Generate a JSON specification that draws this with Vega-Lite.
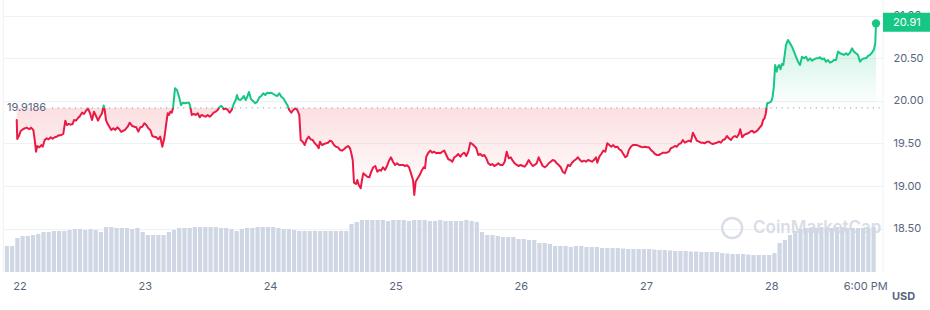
{
"$schema":"https://vega.github.io/schema/vega-lite/v6.json",
"width":880,"height":272,
"autosize":{"type":"none"},
"padding":{"left":3,"top":0,"right":47,"bottom":38},
"background":"white",
"config":{"view":{"stroke":null},"font":"Inter","text":{"font":"Inter"},"scale":{"continuousPadding":0}},
"datasets":{
"one":[{}],
"ticks":[{"t":0,"label":"22"},{"t":24,"label":"23"},{"t":48,"label":"24"},{"t":72,"label":"25"},{"t":96,"label":"26"},{"t":120,"label":"27"},{"t":144,"label":"28"},{"t":162,"label":"6:00 PM"}],
"volume":[{"t":-2.5,"vol":26},{"t":-1.5,"vol":26},{"t":-0.5,"vol":34},{"t":0.5,"vol":36},{"t":1.5,"vol":36},{"t":2.5,"vol":37},{"t":3.5,"vol":38},{"t":4.5,"vol":40},{"t":5.5,"vol":40},{"t":6.5,"vol":41},{"t":7.5,"vol":41},{"t":8.5,"vol":41},{"t":9.5,"vol":42},{"t":10.5,"vol":43},{"t":11.5,"vol":43},{"t":12.5,"vol":42},{"t":13.5,"vol":43},{"t":14.5,"vol":42},{"t":15.5,"vol":40},{"t":16.5,"vol":45},{"t":17.5,"vol":45},{"t":18.5,"vol":44},{"t":19.5,"vol":44},{"t":20.5,"vol":44},{"t":21.5,"vol":43},{"t":22.5,"vol":44},{"t":23.5,"vol":40},{"t":24.5,"vol":37},{"t":25.5,"vol":37},{"t":26.5,"vol":37},{"t":27.5,"vol":37},{"t":28.5,"vol":40},{"t":29.5,"vol":42},{"t":30.5,"vol":44},{"t":31.5,"vol":44},{"t":32.5,"vol":44},{"t":33.5,"vol":45},{"t":34.5,"vol":45},{"t":35.5,"vol":45},{"t":36.5,"vol":45},{"t":37.5,"vol":45},{"t":38.5,"vol":44},{"t":39.5,"vol":44},{"t":40.5,"vol":43},{"t":41.5,"vol":41},{"t":42.5,"vol":43},{"t":43.5,"vol":44},{"t":44.5,"vol":44},{"t":45.5,"vol":45},{"t":46.5,"vol":45},{"t":47.5,"vol":45},{"t":48.5,"vol":45},{"t":49.5,"vol":44},{"t":50.5,"vol":43},{"t":51.5,"vol":43},{"t":52.5,"vol":42},{"t":53.5,"vol":41},{"t":54.5,"vol":41},{"t":55.5,"vol":41},{"t":56.5,"vol":41},{"t":57.5,"vol":41},{"t":58.5,"vol":41},{"t":59.5,"vol":41},{"t":60.5,"vol":41},{"t":61.5,"vol":41},{"t":62.5,"vol":41},{"t":63.5,"vol":48},{"t":64.5,"vol":50},{"t":65.5,"vol":52},{"t":66.5,"vol":52},{"t":67.5,"vol":52},{"t":68.5,"vol":52},{"t":69.5,"vol":52},{"t":70.5,"vol":51},{"t":71.5,"vol":52},{"t":72.5,"vol":52},{"t":73.5,"vol":52},{"t":74.5,"vol":51},{"t":75.5,"vol":52},{"t":76.5,"vol":52},{"t":77.5,"vol":52},{"t":78.5,"vol":51},{"t":79.5,"vol":51},{"t":80.5,"vol":52},{"t":81.5,"vol":51},{"t":82.5,"vol":51},{"t":83.5,"vol":51},{"t":84.5,"vol":51},{"t":85.5,"vol":52},{"t":86.5,"vol":51},{"t":87.5,"vol":50},{"t":88.5,"vol":40},{"t":89.5,"vol":37},{"t":90.5,"vol":37},{"t":91.5,"vol":36},{"t":92.5,"vol":35},{"t":93.5,"vol":35},{"t":94.5,"vol":35},{"t":95.5,"vol":33},{"t":96.5,"vol":33},{"t":97.5,"vol":32},{"t":98.5,"vol":32},{"t":99.5,"vol":29},{"t":100.5,"vol":29},{"t":101.5,"vol":28},{"t":102.5,"vol":26},{"t":103.5,"vol":26},{"t":104.5,"vol":26},{"t":105.5,"vol":25},{"t":106.5,"vol":26},{"t":107.5,"vol":26},{"t":108.5,"vol":25},{"t":109.5,"vol":25},{"t":110.5,"vol":25},{"t":111.5,"vol":24},{"t":112.5,"vol":24},{"t":113.5,"vol":24},{"t":114.5,"vol":24},{"t":115.5,"vol":23.5},{"t":116.5,"vol":23},{"t":117.5,"vol":23},{"t":118.5,"vol":23},{"t":119.5,"vol":23},{"t":120.5,"vol":23},{"t":121.5,"vol":22.5},{"t":122.5,"vol":22},{"t":123.5,"vol":22},{"t":124.5,"vol":21.5},{"t":125.5,"vol":21},{"t":126.5,"vol":21},{"t":127.5,"vol":21},{"t":128.5,"vol":20.5},{"t":129.5,"vol":20.5},{"t":130.5,"vol":20},{"t":131.5,"vol":20},{"t":132.5,"vol":20},{"t":133.5,"vol":20},{"t":134.5,"vol":19},{"t":135.5,"vol":18.5},{"t":136.5,"vol":18},{"t":137.5,"vol":18},{"t":138.5,"vol":18},{"t":139.5,"vol":17.5},{"t":140.5,"vol":17},{"t":141.5,"vol":17},{"t":142.5,"vol":17},{"t":143.5,"vol":17},{"t":144.5,"vol":19},{"t":145.5,"vol":29},{"t":146.5,"vol":32},{"t":147.5,"vol":37},{"t":148.5,"vol":41},{"t":149.5,"vol":43},{"t":150.5,"vol":44},{"t":151.5,"vol":44},{"t":152.5,"vol":44},{"t":153.5,"vol":45},{"t":154.5,"vol":44},{"t":155.5,"vol":44},{"t":156.5,"vol":45},{"t":157.5,"vol":45},{"t":158.5,"vol":44},{"t":159.5,"vol":44},{"t":160.5,"vol":44},{"t":161.5,"vol":44},{"t":162.5,"vol":44},{"t":163.5,"vol":45}],
"price":[{"t":-0.63,"p":19.776},{"t":-0.52,"p":19.553},{"t":-0.13,"p":19.6},{"t":0.13,"p":19.647},{"t":0.63,"p":19.67},{"t":1.28,"p":19.686},{"t":1.78,"p":19.667},{"t":2.11,"p":19.686},{"t":2.55,"p":19.659},{"t":2.82,"p":19.541},{"t":3.07,"p":19.404},{"t":3.31,"p":19.471},{"t":3.7,"p":19.455},{"t":4.08,"p":19.482},{"t":4.35,"p":19.462},{"t":4.73,"p":19.541},{"t":5.11,"p":19.561},{"t":5.5,"p":19.549},{"t":5.88,"p":19.573},{"t":6.26,"p":19.556},{"t":6.65,"p":19.573},{"t":7.03,"p":19.58},{"t":7.41,"p":19.596},{"t":7.8,"p":19.596},{"t":8.29,"p":19.612},{"t":8.68,"p":19.768},{"t":8.95,"p":19.717},{"t":9.33,"p":19.729},{"t":9.71,"p":19.721},{"t":10.09,"p":19.729},{"t":10.34,"p":19.776},{"t":10.73,"p":19.768},{"t":11.11,"p":19.799},{"t":11.49,"p":19.823},{"t":11.88,"p":19.862},{"t":12.26,"p":19.846},{"t":12.64,"p":19.885},{"t":13.03,"p":19.909},{"t":13.41,"p":19.855},{"t":13.79,"p":19.776},{"t":14.17,"p":19.873},{"t":14.56,"p":19.823},{"t":14.94,"p":19.768},{"t":15.32,"p":19.815},{"t":15.71,"p":19.855},{"t":16.03,"p":19.946},{"t":16.22,"p":19.893},{"t":16.47,"p":19.776},{"t":16.72,"p":19.737},{"t":17.11,"p":19.697},{"t":17.49,"p":19.659},{"t":17.87,"p":19.678},{"t":18.25,"p":19.659},{"t":18.64,"p":19.69},{"t":19.02,"p":19.667},{"t":19.4,"p":19.635},{"t":19.79,"p":19.65},{"t":20.11,"p":19.659},{"t":20.63,"p":19.697},{"t":21.01,"p":19.744},{"t":21.51,"p":19.705},{"t":21.89,"p":19.697},{"t":22.28,"p":19.69},{"t":22.66,"p":19.639},{"t":23.04,"p":19.69},{"t":23.43,"p":19.697},{"t":23.81,"p":19.737},{"t":24.19,"p":19.717},{"t":24.58,"p":19.678},{"t":24.96,"p":19.659},{"t":25.34,"p":19.588},{"t":25.72,"p":19.58},{"t":26.11,"p":19.573},{"t":26.49,"p":19.549},{"t":26.87,"p":19.58},{"t":27.26,"p":19.462},{"t":27.64,"p":19.561},{"t":28.02,"p":19.737},{"t":28.29,"p":19.855},{"t":28.54,"p":19.835},{"t":28.79,"p":19.873},{"t":29.06,"p":19.862},{"t":29.31,"p":19.913},{"t":29.69,"p":20.148},{"t":30.07,"p":20.128},{"t":30.46,"p":20.049},{"t":30.84,"p":19.952},{"t":31.22,"p":19.979},{"t":31.6,"p":19.972},{"t":31.99,"p":19.979},{"t":32.37,"p":19.979},{"t":32.62,"p":19.932},{"t":32.89,"p":19.835},{"t":33.27,"p":19.846},{"t":33.65,"p":19.835},{"t":34.04,"p":19.855},{"t":34.42,"p":19.808},{"t":34.8,"p":19.835},{"t":35.19,"p":19.823},{"t":35.57,"p":19.815},{"t":35.95,"p":19.835},{"t":36.34,"p":19.815},{"t":36.72,"p":19.835},{"t":37.1,"p":19.862},{"t":37.48,"p":19.873},{"t":37.87,"p":19.893},{"t":38.25,"p":19.932},{"t":38.63,"p":19.94},{"t":39.02,"p":19.901},{"t":39.4,"p":19.913},{"t":39.78,"p":19.893},{"t":40.17,"p":19.862},{"t":40.55,"p":19.893},{"t":40.93,"p":19.964},{"t":41.32,"p":20.011},{"t":41.56,"p":20.069},{"t":41.81,"p":20.019},{"t":42.2,"p":20.011},{"t":42.58,"p":20.031},{"t":42.85,"p":20.058},{"t":43.23,"p":20.011},{"t":43.48,"p":20.042},{"t":43.86,"p":20.105},{"t":44.25,"p":20.019},{"t":44.57,"p":20.002},{"t":45.07,"p":19.972},{"t":45.45,"p":19.991},{"t":45.84,"p":20.042},{"t":46.22,"p":20.058},{"t":46.6,"p":20.089},{"t":46.98,"p":20.069},{"t":47.37,"p":20.096},{"t":47.75,"p":20.089},{"t":48.13,"p":20.096},{"t":48.52,"p":20.081},{"t":48.9,"p":20.066},{"t":49.28,"p":20.058},{"t":49.67,"p":20.089},{"t":50.05,"p":20.049},{"t":50.43,"p":20.031},{"t":50.82,"p":19.991},{"t":51.2,"p":19.952},{"t":51.58,"p":19.893},{"t":51.96,"p":19.862},{"t":52.35,"p":19.893},{"t":52.73,"p":19.913},{"t":53.11,"p":19.893},{"t":53.5,"p":19.835},{"t":53.77,"p":19.541},{"t":54.15,"p":19.521},{"t":54.53,"p":19.482},{"t":54.91,"p":19.549},{"t":55.3,"p":19.58},{"t":55.68,"p":19.549},{"t":56.06,"p":19.541},{"t":56.45,"p":19.502},{"t":56.83,"p":19.482},{"t":57.21,"p":19.444},{"t":57.46,"p":19.521},{"t":57.85,"p":19.482},{"t":58.23,"p":19.494},{"t":58.61,"p":19.502},{"t":58.99,"p":19.509},{"t":59.38,"p":19.533},{"t":59.76,"p":19.521},{"t":60.14,"p":19.482},{"t":60.53,"p":19.462},{"t":60.91,"p":19.455},{"t":61.29,"p":19.424},{"t":61.68,"p":19.416},{"t":62.06,"p":19.432},{"t":62.44,"p":19.455},{"t":62.83,"p":19.471},{"t":63.21,"p":19.444},{"t":63.46,"p":19.385},{"t":63.73,"p":19.306},{"t":63.97,"p":19.04},{"t":64.36,"p":19.025},{"t":64.61,"p":19.072},{"t":64.88,"p":19.013},{"t":65.26,"p":18.974},{"t":65.51,"p":19.072},{"t":65.76,"p":19.15},{"t":66.14,"p":19.13},{"t":66.52,"p":19.11},{"t":66.91,"p":19.103},{"t":67.29,"p":19.169},{"t":67.67,"p":19.221},{"t":68.05,"p":19.236},{"t":68.44,"p":19.169},{"t":68.82,"p":19.189},{"t":69.15,"p":19.181},{"t":69.53,"p":19.221},{"t":69.91,"p":19.189},{"t":70.3,"p":19.236},{"t":70.68,"p":19.298},{"t":71.06,"p":19.338},{"t":71.44,"p":19.286},{"t":71.83,"p":19.248},{"t":72.21,"p":19.268},{"t":72.59,"p":19.248},{"t":72.98,"p":19.248},{"t":73.36,"p":19.248},{"t":73.74,"p":19.236},{"t":74.13,"p":19.244},{"t":74.51,"p":19.221},{"t":74.89,"p":19.15},{"t":75.28,"p":19.072},{"t":75.52,"p":18.896},{"t":75.79,"p":19.052},{"t":76.18,"p":19.092},{"t":76.56,"p":19.13},{"t":76.94,"p":19.181},{"t":77.33,"p":19.221},{"t":77.57,"p":19.209},{"t":77.82,"p":19.345},{"t":78.21,"p":19.392},{"t":78.59,"p":19.416},{"t":78.97,"p":19.392},{"t":79.36,"p":19.404},{"t":79.74,"p":19.385},{"t":80.12,"p":19.392},{"t":80.5,"p":19.385},{"t":80.89,"p":19.404},{"t":81.27,"p":19.416},{"t":81.65,"p":19.365},{"t":82.04,"p":19.315},{"t":82.42,"p":19.306},{"t":82.8,"p":19.286},{"t":83.19,"p":19.338},{"t":83.57,"p":19.353},{"t":83.95,"p":19.377},{"t":84.34,"p":19.345},{"t":84.72,"p":19.377},{"t":85.1,"p":19.392},{"t":85.48,"p":19.353},{"t":85.87,"p":19.404},{"t":86.25,"p":19.509},{"t":86.63,"p":19.494},{"t":87.02,"p":19.471},{"t":87.4,"p":19.444},{"t":87.78,"p":19.365},{"t":88.17,"p":19.377},{"t":88.55,"p":19.353},{"t":88.93,"p":19.365},{"t":89.32,"p":19.326},{"t":89.7,"p":19.268},{"t":90.08,"p":19.248},{"t":90.46,"p":19.259},{"t":90.85,"p":19.236},{"t":91.23,"p":19.248},{"t":91.61,"p":19.268},{"t":92.0,"p":19.248},{"t":92.46,"p":19.248},{"t":92.84,"p":19.286},{"t":93.22,"p":19.404},{"t":93.61,"p":19.326},{"t":93.99,"p":19.338},{"t":94.37,"p":19.298},{"t":94.75,"p":19.268},{"t":95.14,"p":19.248},{"t":95.52,"p":19.236},{"t":95.9,"p":19.248},{"t":96.29,"p":19.236},{"t":96.67,"p":19.228},{"t":97.05,"p":19.259},{"t":97.44,"p":19.306},{"t":97.82,"p":19.268},{"t":98.2,"p":19.236},{"t":98.59,"p":19.248},{"t":98.97,"p":19.268},{"t":99.35,"p":19.338},{"t":99.73,"p":19.286},{"t":100.12,"p":19.236},{"t":100.5,"p":19.221},{"t":100.88,"p":19.236},{"t":101.27,"p":19.268},{"t":101.65,"p":19.286},{"t":102.03,"p":19.306},{"t":102.42,"p":19.298},{"t":102.8,"p":19.268},{"t":103.18,"p":19.248},{"t":103.57,"p":19.221},{"t":103.95,"p":19.169},{"t":104.33,"p":19.15},{"t":104.58,"p":19.189},{"t":104.96,"p":19.248},{"t":105.35,"p":19.236},{"t":105.73,"p":19.275},{"t":106.11,"p":19.298},{"t":106.5,"p":19.315},{"t":106.88,"p":19.338},{"t":107.26,"p":19.306},{"t":107.65,"p":19.286},{"t":108.03,"p":19.298},{"t":108.41,"p":19.286},{"t":108.79,"p":19.306},{"t":109.18,"p":19.298},{"t":109.56,"p":19.286},{"t":109.94,"p":19.306},{"t":110.33,"p":19.338},{"t":110.58,"p":19.275},{"t":110.96,"p":19.345},{"t":111.34,"p":19.377},{"t":111.72,"p":19.416},{"t":112.11,"p":19.404},{"t":112.49,"p":19.502},{"t":112.87,"p":19.482},{"t":113.26,"p":19.462},{"t":113.64,"p":19.482},{"t":114.02,"p":19.455},{"t":114.41,"p":19.462},{"t":114.79,"p":19.432},{"t":115.17,"p":19.416},{"t":115.56,"p":19.377},{"t":115.94,"p":19.338},{"t":116.28,"p":19.353},{"t":116.63,"p":19.424},{"t":117.01,"p":19.462},{"t":117.4,"p":19.482},{"t":117.78,"p":19.482},{"t":118.16,"p":19.482},{"t":118.54,"p":19.471},{"t":118.93,"p":19.462},{"t":119.31,"p":19.455},{"t":119.69,"p":19.462},{"t":120.08,"p":19.455},{"t":120.46,"p":19.455},{"t":120.84,"p":19.424},{"t":121.23,"p":19.404},{"t":121.61,"p":19.377},{"t":121.99,"p":19.365},{"t":122.38,"p":19.365},{"t":122.76,"p":19.377},{"t":123.14,"p":19.392},{"t":123.52,"p":19.392},{"t":123.91,"p":19.392},{"t":124.29,"p":19.404},{"t":124.67,"p":19.444},{"t":125.06,"p":19.455},{"t":125.44,"p":19.471},{"t":125.82,"p":19.462},{"t":126.21,"p":19.494},{"t":126.59,"p":19.502},{"t":126.97,"p":19.541},{"t":127.36,"p":19.509},{"t":127.74,"p":19.521},{"t":128.12,"p":19.533},{"t":128.5,"p":19.521},{"t":128.89,"p":19.627},{"t":129.27,"p":19.58},{"t":129.65,"p":19.533},{"t":130.04,"p":19.521},{"t":130.42,"p":19.509},{"t":130.8,"p":19.509},{"t":131.19,"p":19.502},{"t":131.57,"p":19.521},{"t":131.95,"p":19.521},{"t":132.34,"p":19.502},{"t":132.72,"p":19.494},{"t":133.1,"p":19.502},{"t":133.49,"p":19.509},{"t":133.87,"p":19.521},{"t":134.25,"p":19.509},{"t":134.63,"p":19.541},{"t":135.02,"p":19.549},{"t":135.4,"p":19.588},{"t":135.78,"p":19.561},{"t":136.17,"p":19.541},{"t":136.55,"p":19.573},{"t":136.93,"p":19.588},{"t":137.32,"p":19.573},{"t":137.7,"p":19.612},{"t":137.95,"p":19.667},{"t":138.33,"p":19.573},{"t":138.71,"p":19.6},{"t":139.1,"p":19.612},{"t":139.48,"p":19.62},{"t":139.86,"p":19.639},{"t":140.25,"p":19.65},{"t":140.56,"p":19.627},{"t":140.94,"p":19.639},{"t":141.33,"p":19.659},{"t":141.71,"p":19.69},{"t":142.09,"p":19.717},{"t":142.34,"p":19.776},{"t":142.61,"p":19.796},{"t":142.86,"p":19.855},{"t":143.11,"p":19.972},{"t":143.49,"p":19.979},{"t":143.87,"p":19.991},{"t":144.14,"p":20.042},{"t":144.39,"p":20.167},{"t":144.64,"p":20.421},{"t":144.91,"p":20.343},{"t":145.16,"p":20.401},{"t":145.41,"p":20.421},{"t":145.67,"p":20.371},{"t":145.92,"p":20.433},{"t":146.2,"p":20.421},{"t":146.47,"p":20.539},{"t":146.72,"p":20.656},{"t":147.1,"p":20.715},{"t":147.49,"p":20.676},{"t":147.87,"p":20.636},{"t":148.25,"p":20.578},{"t":148.63,"p":20.519},{"t":149.02,"p":20.46},{"t":149.4,"p":20.421},{"t":149.78,"p":20.519},{"t":150.17,"p":20.5},{"t":150.55,"p":20.519},{"t":150.93,"p":20.472},{"t":151.32,"p":20.5},{"t":151.7,"p":20.472},{"t":152.08,"p":20.488},{"t":152.46,"p":20.5},{"t":152.85,"p":20.5},{"t":153.23,"p":20.512},{"t":153.61,"p":20.488},{"t":154.0,"p":20.5},{"t":154.38,"p":20.46},{"t":154.76,"p":20.48},{"t":155.15,"p":20.448},{"t":155.53,"p":20.46},{"t":155.91,"p":20.48},{"t":156.3,"p":20.48},{"t":156.68,"p":20.578},{"t":157.06,"p":20.559},{"t":157.44,"p":20.55},{"t":157.83,"p":20.539},{"t":158.21,"p":20.559},{"t":158.59,"p":20.539},{"t":158.98,"p":20.566},{"t":159.36,"p":20.617},{"t":159.74,"p":20.578},{"t":160.13,"p":20.559},{"t":160.51,"p":20.539},{"t":160.89,"p":20.46},{"t":161.27,"p":20.488},{"t":161.66,"p":20.5},{"t":162.04,"p":20.5},{"t":162.42,"p":20.527},{"t":162.81,"p":20.539},{"t":163.19,"p":20.566},{"t":163.57,"p":20.606},{"t":163.82,"p":20.676},{"t":163.96,"p":20.91}]
},
"layer":[
{"data":{"name":"one"},"mark":{"type":"rule","color":"#eff2f5","strokeWidth":1},
 "encoding":{"x":{"datum":-3.2,"type":"quantitative","scale":{"domain":[-3.256,165.3],"nice":false,"zero":false,"padding":0},"axis":null}}},
{"data":{"name":"one"},"mark":{"type":"rule","color":"#eff2f5","strokeWidth":1},
 "encoding":{"x":{"datum":165.3,"type":"quantitative","axis":null}}},
{"data":{"name":"one"},"mark":{"type":"point","shape":"circle","filled":false,"stroke":"#d9dde6","strokeWidth":2.5,"opacity":1,"size":400},
 "encoding":{"x":{"datum":136.4,"type":"quantitative","axis":null},
  "y":{"datum":18.508,"type":"quantitative","scale":{"domain":[17.992,21.184],"nice":false,"zero":false},"axis":null}}},
{"data":{"name":"one"},"mark":{"type":"text","text":"CoinMarketCap","align":"left","baseline":"middle","fontSize":17,"fontWeight":600,"color":"#d9dde6"},
 "encoding":{"x":{"datum":140.4,"type":"quantitative","axis":null},
  "y":{"datum":18.508,"type":"quantitative","scale":{"domain":[17.992,21.184],"nice":false,"zero":false},"axis":null}}},
{"data":{"name":"volume"},
 "mark":{"type":"bar","width":4.2,"color":"#cfd6e4"},
 "encoding":{"x":{"field":"t","type":"quantitative","scale":{"domain":[-3.256,165.3],"nice":false,"zero":false,"padding":0},"axis":null},
  "y":{"field":"vol","type":"quantitative","scale":{"domain":[0,272],"nice":false},"axis":null}}},
{"data":{"name":"ticks"},"mark":{"type":"text","align":"center","baseline":"middle","fontSize":11,"color":"#58667e"},
 "encoding":{"x":{"field":"t","type":"quantitative","axis":null},
  "y":{"datum":17.816,"type":"quantitative","scale":{"domain":[17.992,21.184],"nice":false,"zero":false},"axis":null},
  "text":{"field":"label"}}},
{"data":{"name":"price"},
 "mark":{"type":"area","fill":{"gradient":"linear","x1":0,"y1":0,"x2":0,"y2":1,"stops":[{"offset":0,"color":"rgba(22,199,132,0.26)"},{"offset":0.49225,"color":"rgba(22,199,132,0)"},{"offset":0.49225,"color":"rgba(234,57,67,0.16)"},{"offset":1,"color":"rgba(234,57,67,0)"}]}},
 "encoding":{"x":{"field":"t","type":"quantitative","axis":null},
  "y":{"field":"p","type":"quantitative","scale":{"domain":[17.992,21.184],"nice":false,"zero":false},"axis":null},
  "y2":{"datum":19.9186}}},
{"data":{"name":"one"},"mark":{"type":"rule","color":"#a6aebd","strokeWidth":1.2,"strokeDash":[1.2,4.5]},
 "encoding":{"x":{"datum":6.13,"type":"quantitative","axis":null},
  "x2":{"datum":164.7},
  "y":{"datum":19.9186,"type":"quantitative","scale":{"domain":[17.992,21.184],"nice":false,"zero":false},"axis":null}}},
{"data":{"name":"price"},
 "mark":{"type":"line","strokeWidth":2,"strokeJoin":"round","strokeCap":"round","stroke":{"gradient":"linear","x1":0,"y1":0,"x2":0,"y2":1,"stops":[{"offset":0,"color":"#16c784"},{"offset":0.49225,"color":"#16c784"},{"offset":0.49225,"color":"#ea1a44"},{"offset":1,"color":"#ea1a44"}]}},
 "encoding":{"x":{"field":"t","type":"quantitative","axis":null},
  "y":{"field":"p","type":"quantitative","scale":{"domain":[17.992,21.184],"nice":false,"zero":false},
   "axis":{"orient":"right","values":[18.5,19,19.5,20,20.5,21],"format":".2f","grid":true,"gridColor":"#eff2f5","gridWidth":1,"domain":false,"ticks":false,"labelPadding":10,"labelFontSize":11,"labelFont":"Inter","labelColor":"#58667e","title":"USD","titleAngle":0,"titleX":20,"titleY":296,"titleAlign":"center","titleBaseline":"middle","titleFontSize":11,"titleFont":"Inter","titleFontWeight":"bold","titleColor":"#58667e"}}}},
{"data":{"name":"one"},"mark":{"type":"point","shape":"circle","filled":true,"color":"#16c784","opacity":1,"size":70},
 "encoding":{"x":{"datum":163.96,"type":"quantitative","axis":null},
  "y":{"datum":20.91,"type":"quantitative","scale":{"domain":[17.992,21.184],"nice":false,"zero":false},"axis":null}}},
{"data":{"name":"one"},"mark":{"type":"text","text":"19.9186","align":"left","baseline":"middle","fontSize":11,"color":"#58667e"},
 "encoding":{"x":{"datum":-2.49,"type":"quantitative","axis":null},
  "y":{"datum":19.9186,"type":"quantitative","scale":{"domain":[17.992,21.184],"nice":false,"zero":false},"axis":null}}},
{"data":{"name":"one"},"mark":{"type":"rect","color":"#16c784"},
 "encoding":{"x":{"datum":165.3,"type":"quantitative","axis":null},
  "x2":{"datum":174.3},
  "y":{"datum":21.035,"type":"quantitative","scale":{"domain":[17.992,21.184],"nice":false,"zero":false},"axis":null},
  "y2":{"datum":20.812}}},
{"data":{"name":"one"},"mark":{"type":"text","text":"20.91","align":"left","baseline":"middle","fontSize":11,"color":"white"},
 "encoding":{"x":{"datum":167.21,"type":"quantitative","axis":null},
  "y":{"datum":20.91,"type":"quantitative","scale":{"domain":[17.992,21.184],"nice":false,"zero":false},"axis":null}}}
],
"resolve":{"scale":{"y":"independent"}}
}
